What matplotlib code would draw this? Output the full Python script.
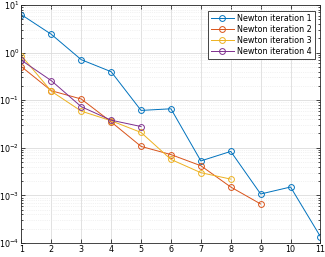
import matplotlib
matplotlib.use("Agg")
import matplotlib.pyplot as plt
import numpy as np

# residual per Newton iteration
steps_1 = [1, 2, 3, 4, 5, 6, 7, 8, 9, 10, 11]
iter_1 = [6.25, 2.42, 0.71, 0.397, 0.061, 0.066, 0.0053, 0.0084, 0.00107, 0.0015, 0.000136]

steps_2 = [1, 2, 3, 4, 5, 6, 7, 8, 9]
iter_2 = [0.506, 0.158, 0.106, 0.035, 0.0107, 0.0072, 0.0042, 0.0015, 0.00066]

steps_3 = [1, 2, 3, 4, 5, 6, 7, 8]
iter_3 = [0.86, 0.154, 0.059, 0.037, 0.021, 0.0057, 0.0030, 0.0022]

steps_4 = [1, 2, 3, 4, 5]
iter_4 = [0.69, 0.257, 0.073, 0.038, 0.028]

labels = ["Newton iteration 1", "Newton iteration 2",
          "Newton iteration 3", "Newton iteration 4"]
colors = ["#0072BD", "#D95319", "#EDB120", "#7E2F8E"]

fig = plt.figure(figsize=(3.25, 2.57), dpi=100)
ax = fig.add_axes([0.066, 0.0545, 0.920, 0.926])

for xs, ys, lab, c in zip([steps_1, steps_2, steps_3, steps_4],
                          [iter_1, iter_2, iter_3, iter_4], labels, colors):
    ax.plot(xs, ys, "-o", color=c, lw=0.7, ms=4.2, mfc="none", mew=0.7, label=lab)

ax.set_yscale("log")
ax.set_xlim(1, 11)
ax.set_ylim(1e-4, 1e1)
ax.set_xticks(range(1, 12))
ax.set_yticks([1e-4, 1e-3, 1e-2, 1e-1, 1e0, 1e1])
ax.tick_params(which="both", direction="in", top=True, right=True,
               labelsize=5.8, length=3, width=0.5, pad=1.5)
ax.tick_params(which="minor", length=1.5)
ax.grid(True, which="major", color="#dcdcdc", lw=0.6)
ax.grid(True, which="minor", color="#e6e6e6", lw=0.5, ls=":")
for s in ax.spines.values():
    s.set_linewidth(0.6)
    s.set_color("#262626")

leg = ax.legend(loc="upper right", fontsize=5.8, fancybox=False,
                edgecolor="#262626", framealpha=1, handlelength=2.8,
                borderpad=0.4, labelspacing=0.25, handletextpad=0.4,
                borderaxespad=0.7)
leg.get_frame().set_linewidth(0.6)

fig.savefig("out.png", dpi=100)
